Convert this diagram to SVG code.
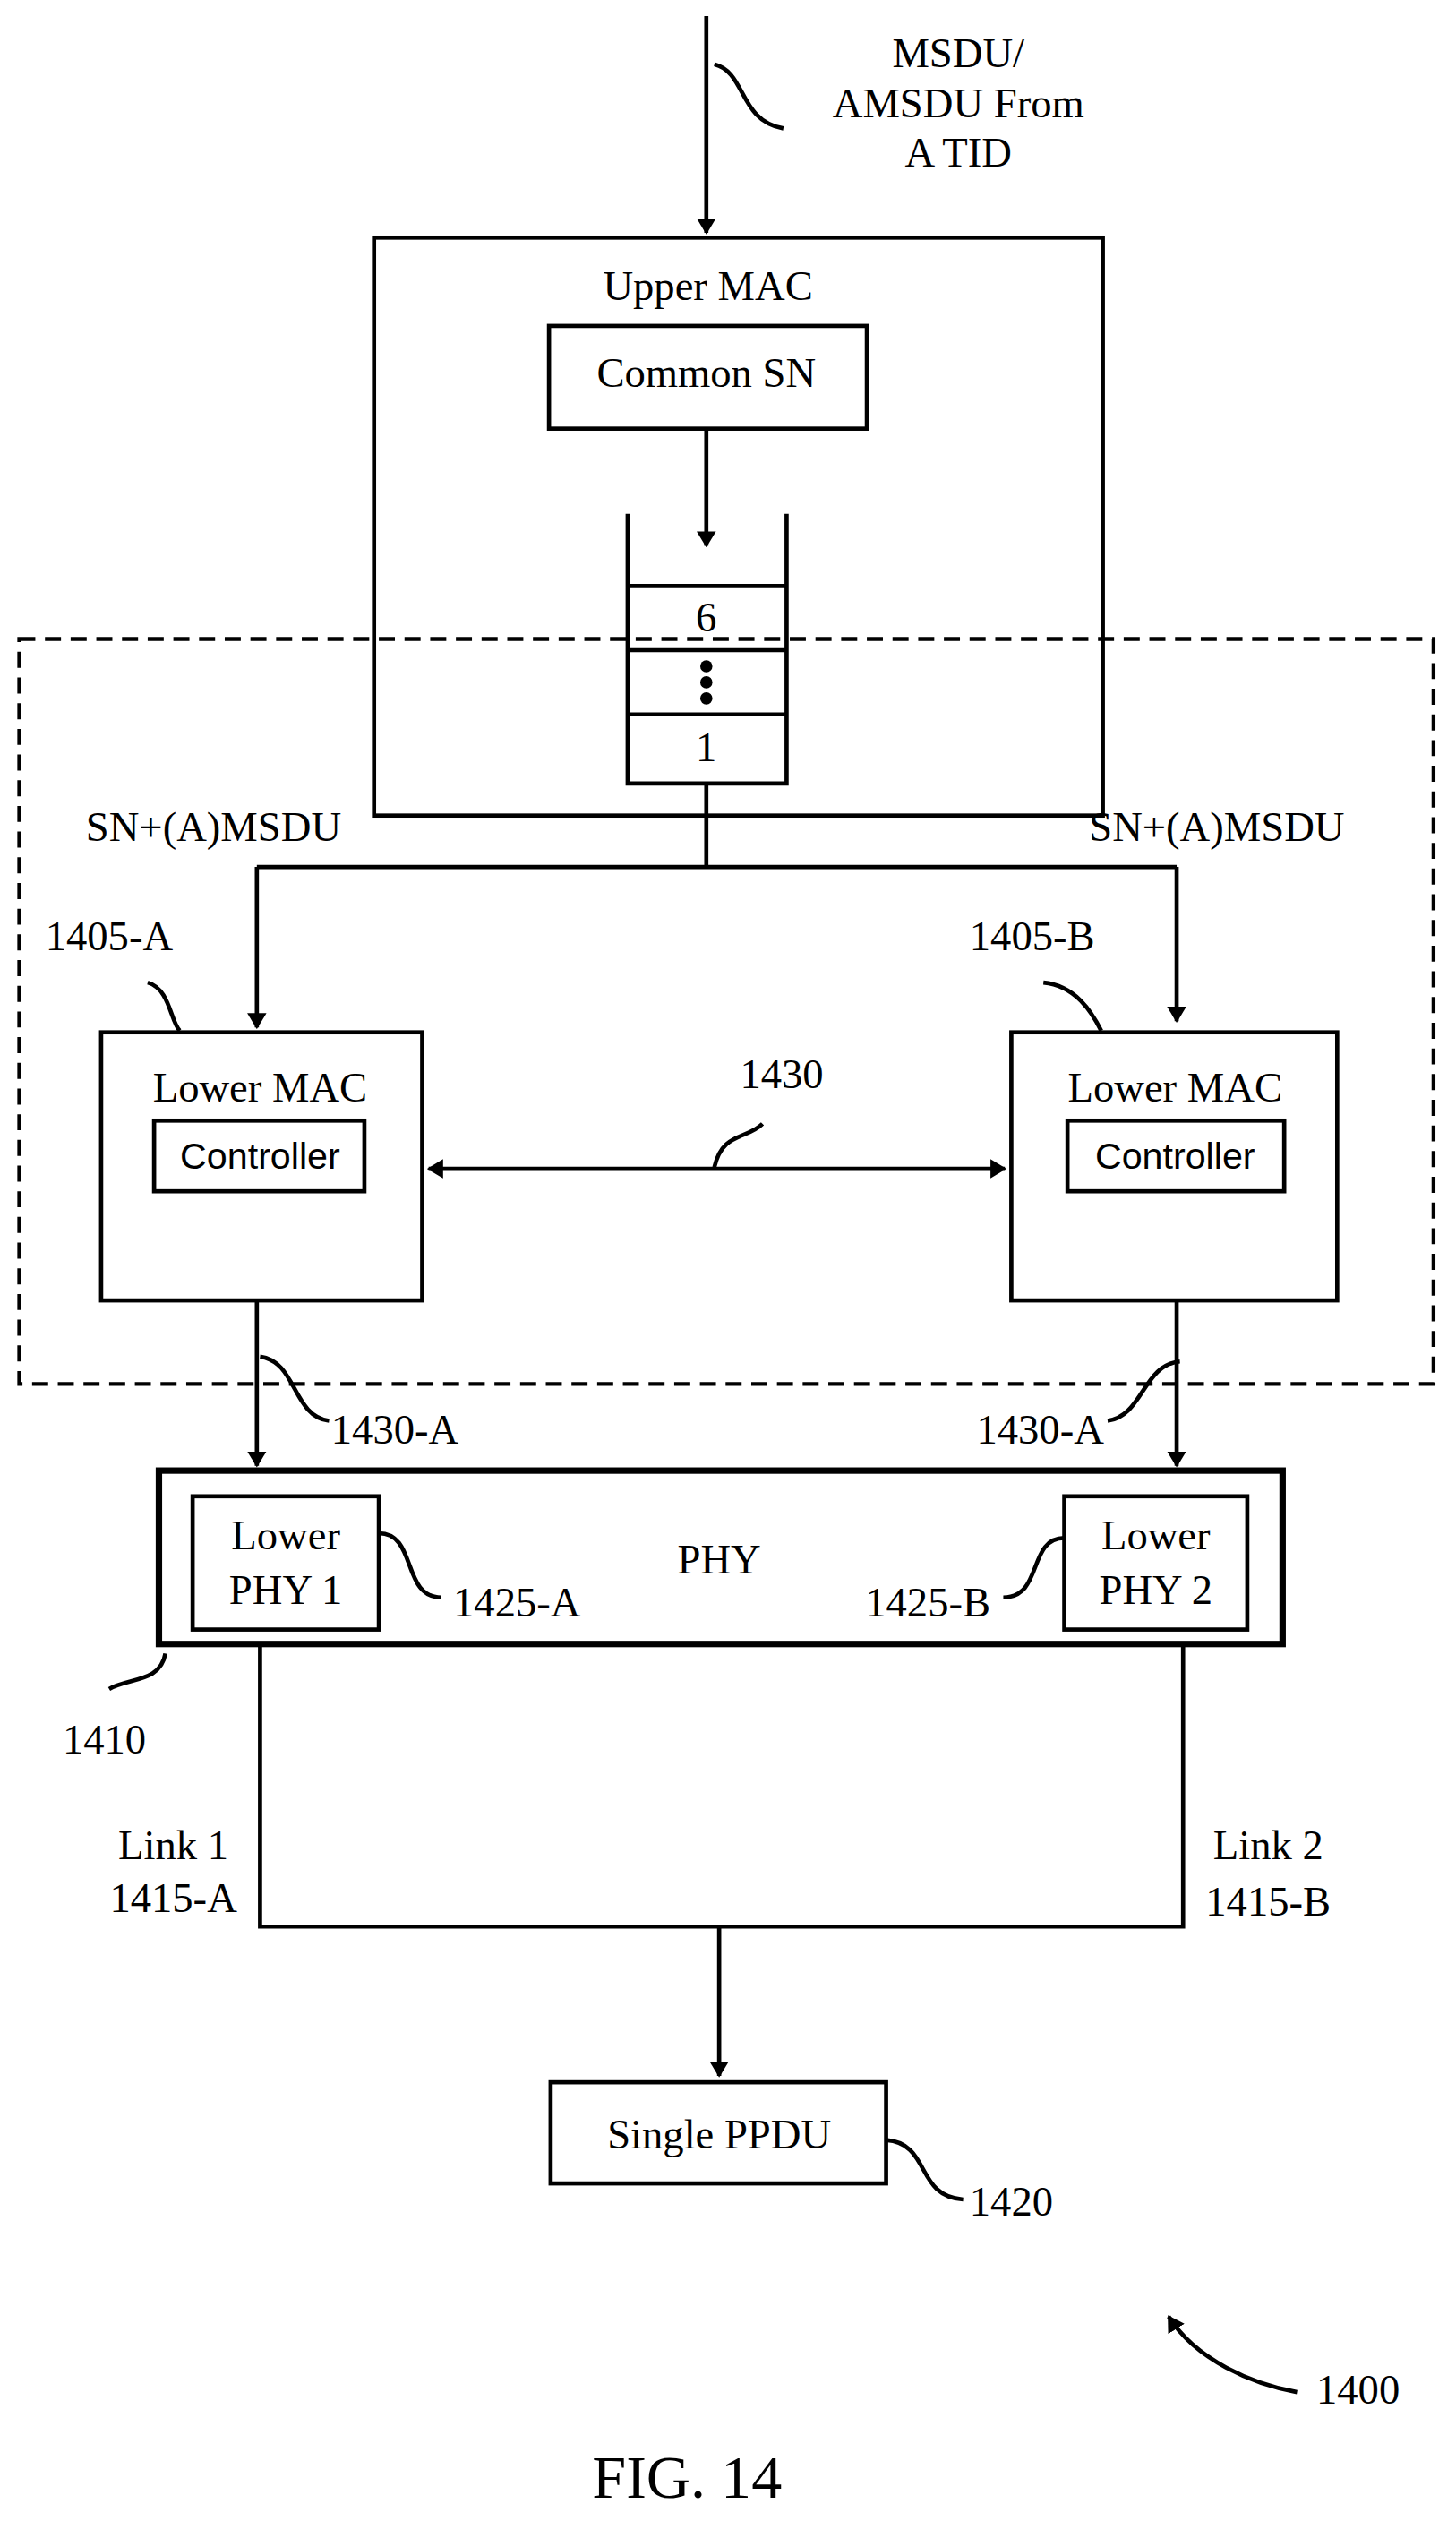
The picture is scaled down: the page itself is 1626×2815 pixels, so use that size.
<svg xmlns="http://www.w3.org/2000/svg" width="1626" height="2815" viewBox="0 0 1626 2815">
<style>
.b{fill:none;stroke:#000;stroke-width:2.6}
.t{font-family:"Liberation Serif",serif;font-size:26px;text-anchor:middle;fill:#000}
.s{font-family:"Liberation Sans",sans-serif;font-size:23px;text-anchor:middle;fill:#000}
.c{fill:none;stroke:#000;stroke-width:2.6;marker-end:url(#a)}
</style>
<defs><marker id="a" markerWidth="10" markerHeight="12" refX="9" refY="6" orient="auto" markerUnits="userSpaceOnUse"><path d="M0,0 L10,6 L0,12 z" fill="#000"/></marker>
<marker id="a2" markerWidth="10" markerHeight="12" refX="1" refY="6" orient="auto" markerUnits="userSpaceOnUse"><path d="M10,0 L0,6 L10,12 z" fill="#000"/></marker></defs>
<rect width="1626" height="2815" fill="#fff"/>
<g transform="scale(1.7927)">
<g id="dashed"><rect x="12" y="398" width="881" height="464" fill="none" stroke="#000" stroke-width="2.4" stroke-dasharray="10,6"/></g>
<g id="input"><text class="t" x="597" y="42">MSDU/</text><text class="t" x="597" y="73">AMSDU From</text><text class="t" x="597" y="104">A TID</text></g>
<g id="upper"><rect class="b" x="233" y="148" width="454" height="360"/><text class="t" x="441" y="187">Upper MAC</text></g>
<g id="commonsn"><rect class="b" x="342" y="203" width="198" height="64"/><text class="t" x="440" y="241">Common SN</text></g>
<g id="queue"><path class="b" d="M391,320 V488 H490 V320 M391,365 H490 M391,405 H490 M391,445 H490"/><text class="t" x="440" y="393">6</text><circle cx="440" cy="415" r="3.8"/><circle cx="440" cy="425" r="3.8"/><circle cx="440" cy="435" r="3.8"/><text class="t" x="440" y="474">1</text></g>
<g id="lmacA"><rect class="b" x="63" y="643" width="200" height="167"/><text class="t" x="162" y="686">Lower MAC</text><rect class="b" x="96" y="698" width="131" height="44"/><text class="s" x="162" y="728">Controller</text><text class="t" x="68" y="592">1405-A</text></g>
<g id="lmacB"><rect class="b" x="630" y="643" width="203" height="167"/><text class="t" x="732" y="686">Lower MAC</text><rect class="b" x="665" y="698" width="135" height="44"/><text class="s" x="732" y="728">Controller</text><text class="t" x="643" y="592">1405-B</text></g>
<g id="phy"><rect x="99" y="916" width="700" height="108" fill="none" stroke="#000" stroke-width="4"/><text class="t" x="448" y="980">PHY</text><text class="t" x="65" y="1092">1410</text></g>
<g id="lphy1"><rect class="b" x="120" y="932" width="116" height="83"/><text class="t" x="178" y="965">Lower</text><text class="t" x="178" y="999">PHY 1</text><text class="t" x="322" y="1007">1425-A</text></g>
<g id="lphy2"><rect class="b" x="663" y="932" width="114" height="83"/><text class="t" x="720" y="965">Lower</text><text class="t" x="720" y="999">PHY 2</text><text class="t" x="578" y="1007">1425-B</text></g>
<g id="ppdu"><rect class="b" x="343" y="1297" width="209" height="63"/><text class="t" x="448" y="1338">Single PPDU</text><text class="t" x="630" y="1380">1420</text></g>
<g id="labels"><text class="t" x="133" y="524">SN+(A)MSDU</text><text class="t" x="758" y="524">SN+(A)MSDU</text><text class="t" x="487" y="678">1430</text><text class="t" x="246" y="899">1430-A</text><text class="t" x="648" y="899">1430-A</text><text class="t" x="108" y="1158">Link 1</text><text class="t" x="108" y="1191">1415-A</text><text class="t" x="790" y="1158">Link 2</text><text class="t" x="790" y="1193">1415-B</text><text class="t" x="846" y="1497">1400</text><text class="t" x="428" y="1556" style="font-size:38px">FIG. 14</text></g>
<g id="connectors">
<path class="c" d="M440,10 V145"/>
<path class="c" d="M440,267 V340"/>
<path class="b" d="M440,488 V540 M160,540 H733"/>
<path class="c" d="M160,540 V640"/>
<path class="c" d="M733,540 V636"/>
<path class="c" d="M267,728 H626" marker-start="url(#a2)"/>
<path class="c" d="M160,810 V913"/>
<path class="c" d="M733,810 V913"/>
<path class="b" d="M162,1025 V1200 H737 V1025"/>
<path class="c" d="M448,1200 V1293"/>
<path class="c" d="M808,1490 C780,1485 745,1470 728,1443"/>
<path class="b" d="M445,40 C465,45 460,75 488,80"/>
<path class="b" d="M92,612 C106,616 106,636 112,642"/>
<path class="b" d="M650,612 C670,614 680,630 686,642"/>
<path class="b" d="M445,727 C450,705 465,710 475,700"/>
<path class="b" d="M162,845 C185,848 182,882 205,885"/>
<path class="b" d="M735,848 C712,850 712,882 690,885"/>
<path class="b" d="M236,955 C260,955 250,995 275,995"/>
<path class="b" d="M663,958 C640,958 650,995 625,995"/>
<path class="b" d="M103,1030 C100,1048 80,1045 68,1052"/>
<path class="b" d="M552,1333 C580,1335 570,1368 600,1370"/>
</g>
</g>
</svg>
